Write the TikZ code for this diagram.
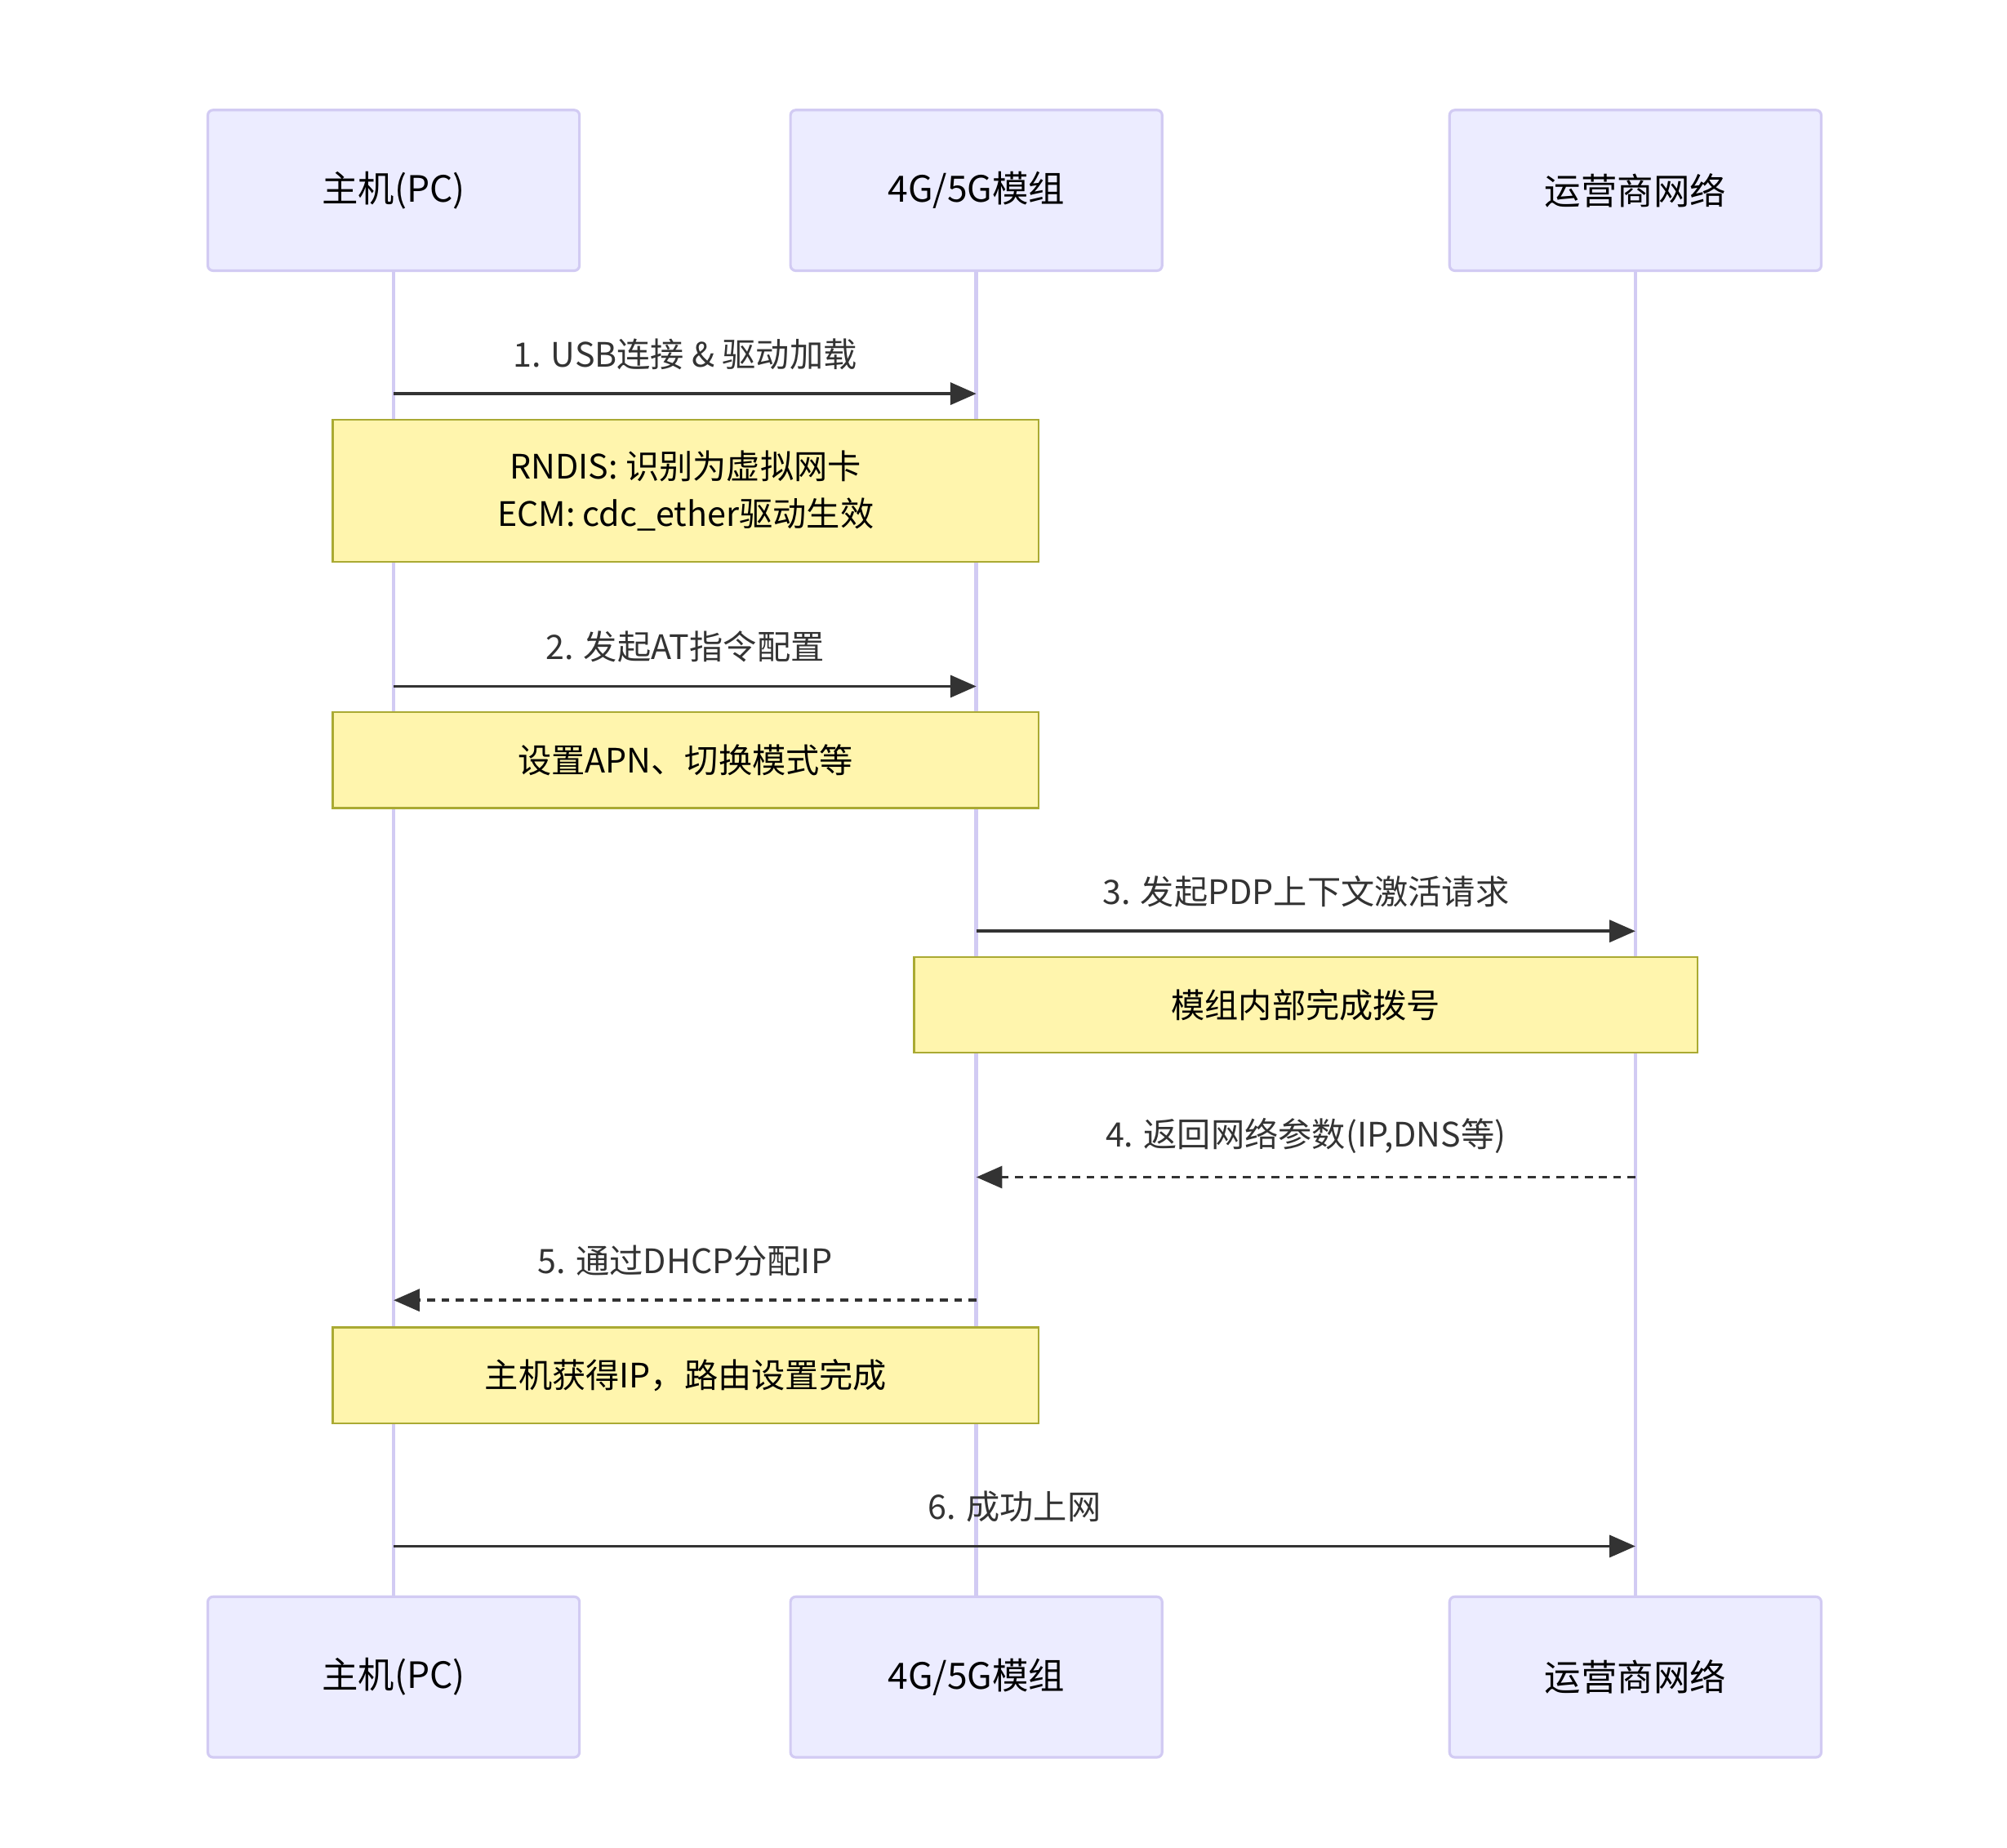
\documentclass[tikz,border=0pt]{standalone}
\usepackage{fontspec}
\setmainfont{Noto Sans CJK SC}
\usetikzlibrary{arrows.meta,positioning}
\definecolor{actorfill}{HTML}{ECECFF}
\definecolor{actorline}{HTML}{D2CBF3}
\definecolor{notefill}{HTML}{FFF5AD}
\definecolor{noteline}{HTML}{AAAA33}
\definecolor{ink}{HTML}{333333}
\tikzset{
  actor/.style={draw=actorline,fill=actorfill,line width=2pt,rounded corners=4pt,
    minimum width=287pt,minimum height=124pt,text=black,font=\fontsize{28}{34}\selectfont},
  note/.style={draw=noteline,fill=notefill,line width=1.5pt,text=black,align=center,
    font=\fontsize{26}{36}\selectfont},
  life/.style={actorline,line width=3pt},
  msg/.style={ink,line width=2.2pt,-{Triangle[length=20pt,width=17pt]}},
  reply/.style={msg,dash pattern=on 6pt off 5pt},
  lbl/.style={text=ink,font=\fontsize{26}{32}\selectfont}
}
\begin{document}
\begin{tikzpicture}[x=1pt,y=-1pt]
\useasboundingbox (0,0) rectangle (1550,1427);
% actors
\node[actor] (pcT)  at (304,147) {主机(PC)};
\node[actor] (modT) at (754,147) {4G/5G模组};
\node[actor] (netT) at (1263,147) {运营商网络};
\node[actor] (pcB)  at (304,1295) {主机(PC)};
\node[actor] (modB) at (754,1295) {4G/5G模组};
\node[actor] (netB) at (1263,1295) {运营商网络};
% lifelines
\draw[life] (pcT) -- (pcB);
\draw[life] (modT) -- (modB);
\draw[life] (netT) -- (netB);
% message ends
\foreach \n/\y in {1/304,2/530,3/719,4/909,5/1004,6/1194} {
  \coordinate (pc\n) at (304,\y);
  \coordinate (mod\n) at (754,\y);
  \coordinate (net\n) at (1263,\y);
}
% messages
\draw[msg] (pc1) -- node[lbl,above=14pt] {1. USB连接 \& 驱动加载} (mod1);
\node[note,minimum width=545pt,minimum height=110pt] (n1) at (529.5,379) {RNDIS: 识别为虚拟网卡\\ECM: cdc\_ether驱动生效};
\draw[msg] (pc2) -- node[lbl,above=14pt] {2. 发起AT指令配置} (mod2);
\node[note,minimum width=545pt,minimum height=74pt] (n2) at (529.5,587) {设置APN、切换模式等};
\draw[msg] (mod3) -- node[lbl,above=14pt] {3. 发起PDP上下文激活请求} (net3);
\node[note,minimum width=605pt,minimum height=74pt] (n3) at (1008.5,776) {模组内部完成拨号};
\draw[reply] (net4) -- node[lbl,above=14pt] {4. 返回网络参数(IP,DNS等)} (mod4);
\draw[reply] (mod5) -- node[lbl,above=14pt] {5. 通过DHCP分配IP} (pc5);
\node[note,minimum width=545pt,minimum height=74pt] (n4) at (529.5,1062) {主机获得IP，路由设置完成};
\draw[msg] (pc6) -- node[lbl,above=14pt] {6. 成功上网} (net6);
\end{tikzpicture}
\end{document}
